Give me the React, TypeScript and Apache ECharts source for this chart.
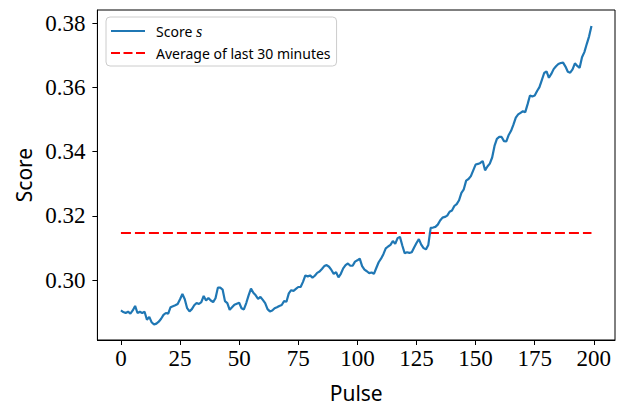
import React, { useEffect, useRef } from "react";
import * as echarts from "echarts";

const scoreValues: number[] = [
  0.2906, 0.2901, 0.2898, 0.2902, 0.2896, 0.2906, 0.2920, 0.2898, 0.2902, 0.2898,
  0.2902, 0.2877, 0.2886, 0.2869, 0.2862, 0.2865, 0.2871, 0.2880, 0.2892, 0.2898,
  0.2896, 0.2916, 0.2919, 0.2922, 0.2926, 0.2941, 0.2957, 0.2941, 0.2913, 0.2903,
  0.2910, 0.2922, 0.2929, 0.2926, 0.2932, 0.2951, 0.2937, 0.2945, 0.2937, 0.2932,
  0.2944, 0.2977, 0.2977, 0.2971, 0.2935, 0.2929, 0.2908, 0.2916, 0.2924, 0.2927,
  0.2930, 0.2913, 0.2909, 0.2929, 0.2953, 0.2974, 0.2961, 0.2953, 0.2942, 0.2948,
  0.2939, 0.2929, 0.2910, 0.2903, 0.2906, 0.2913, 0.2916, 0.2920, 0.2923, 0.2935,
  0.2933, 0.2959, 0.2969, 0.2967, 0.2973, 0.2979, 0.2979, 0.2995, 0.3015, 0.3012,
  0.3015, 0.3008, 0.3014, 0.3023, 0.3027, 0.3035, 0.3044, 0.3047, 0.3042, 0.3032,
  0.3020, 0.3025, 0.3009, 0.3020, 0.3037, 0.3047, 0.3052, 0.3045, 0.3045, 0.3058,
  0.3062, 0.3067, 0.3044, 0.3033, 0.3028, 0.3022, 0.3024, 0.3020, 0.3038, 0.3056,
  0.3067, 0.3081, 0.3099, 0.3105, 0.3110, 0.3122, 0.3113, 0.3131, 0.3135, 0.3108,
  0.3084, 0.3087, 0.3085, 0.3087, 0.3102, 0.3116, 0.3128, 0.3111, 0.3100, 0.3096,
  0.3110, 0.3163, 0.3164, 0.3166, 0.3173, 0.3186, 0.3195, 0.3197, 0.3201, 0.3213,
  0.3217, 0.3231, 0.3237, 0.3249, 0.3272, 0.3283, 0.3310, 0.3315, 0.3324, 0.3342,
  0.3360, 0.3362, 0.3365, 0.3371, 0.3342, 0.3354, 0.3363, 0.3382, 0.3418, 0.3440,
  0.3446, 0.3446, 0.3433, 0.3432, 0.3452, 0.3465, 0.3484, 0.3506, 0.3516, 0.3521,
  0.3526, 0.3523, 0.3548, 0.3575, 0.3572, 0.3575, 0.3589, 0.3601, 0.3623, 0.3645,
  0.3650, 0.3630, 0.3642, 0.3657, 0.3666, 0.3673, 0.3676, 0.3677, 0.3665, 0.3649,
  0.3646, 0.3656, 0.3675, 0.3667, 0.3661, 0.3694, 0.3710, 0.3735, 0.3759, 0.3791,
];
const pulses: number[] = scoreValues.map((_, i) => i);
const averageValue = 0.3147;
const averageRange: number[] = [0, 199];
const xTicks: number[] = [0, 25, 50, 75, 100, 125, 150, 175, 200];
const yTicks: number[] = [0.3, 0.32, 0.34, 0.36, 0.38];

const SERIF = "'Liberation Serif', 'Times New Roman', serif";
const SANS = "'Noto Sans', 'DejaVu Sans', sans-serif";

const SOLID_ICON = "path://M0,0H34V2H0Z";
const DASH_ICON = "path://M0,0H9V2H0ZM12.5,0H21.5V2H12.5ZM25,0H34V2H25Z";

export default function App() {
  const ref = useRef<HTMLDivElement>(null);
  useEffect(() => {
    if (!ref.current) return;
    const chart = echarts.init(ref.current, undefined, { renderer: "svg" });
    const axisLine = { show: true, onZero: false, lineStyle: { color: "#000", width: 1 } };
    const axisTick = { show: true, length: 5, inside: false, lineStyle: { color: "#000", width: 1 } };
    chart.setOption({
      animation: false,
      backgroundColor: "#fff",
      grid: {
        left: 97.4,
        top: 10,
        right: 7,
        bottom: 60.3,
        show: true,
        borderColor: "#000",
        borderWidth: 1,
        containLabel: false,
      },
      legend: {
        orient: "vertical",
        left: 106,
        top: 17,
        padding: [6, 6, 6, 5],
        itemGap: 7,
        itemWidth: 34,
        itemHeight: 2,
        borderColor: "#cccccc",
        borderWidth: 1,
        borderRadius: 4,
        backgroundColor: "#ffffff",
        itemStyle: { borderWidth: 0 },
        lineStyle: { width: 0 },
        data: [
          { name: "Score", icon: SOLID_ICON },
          { name: "Average of last 30 minutes", icon: DASH_ICON },
        ],
        formatter: (name: string) =>
          name === "Score" ? "{t|Score }{i|s}" : "{t|" + name + "}",
        textStyle: {
          color: "#000",
          padding: [0, 0, 0, 6],
          rich: {
            t: { fontFamily: SANS, fontSize: 14, color: "#000", lineHeight: 15 },
            i: { fontFamily: SERIF, fontStyle: "italic", fontSize: 16, color: "#000", lineHeight: 15 },
          },
        },
      },
      xAxis: {
        type: "value",
        min: -9.95,
        max: 208.95,
        name: "Pulse",
        nameLocation: "middle",
        nameGap: 42,
        nameTextStyle: { fontFamily: SANS, fontSize: 21, color: "#000" },
        axisLine,
        axisTick: { ...axisTick, customValues: xTicks },
        splitLine: { show: false },
        axisLabel: {
          customValues: xTicks,
          fontFamily: SERIF,
          fontSize: 23,
          color: "#000",
          margin: 7,
          formatter: (v: number) => String(v),
        },
      },
      yAxis: {
        type: "value",
        min: 0.2814,
        max: 0.3841,
        name: "Score",
        nameLocation: "middle",
        nameGap: 63,
        nameTextStyle: { fontFamily: SANS, fontSize: 21, color: "#000" },
        axisLine,
        axisTick: { ...axisTick, customValues: yTicks },
        splitLine: { show: false },
        axisLabel: {
          customValues: yTicks,
          fontFamily: SERIF,
          fontSize: 23,
          color: "#000",
          margin: 12,
          formatter: (v: number) => v.toFixed(2),
        },
      },
      series: [
        {
          name: "Score",
          type: "line",
          symbol: "none",
          showSymbol: false,
          data: pulses.map((p, i) => [p, scoreValues[i]]),
          lineStyle: { color: "#1f77b4", width: 2.2 },
          itemStyle: { color: "#1f77b4" },
          z: 3,
        },
        {
          name: "Average of last 30 minutes",
          type: "line",
          symbol: "none",
          showSymbol: false,
          data: averageRange.map((p) => [p, averageValue]),
          lineStyle: { color: "#ff0000", width: 2, type: [10, 4] },
          itemStyle: { color: "#ff0000" },
          z: 2,
        },
      ],
    });
    return () => chart.dispose();
  }, []);
  return (
    <div
      ref={ref}
      style={{ position: "absolute", left: 0, top: 0, width: 622, height: 408 }}
    />
  );
}
